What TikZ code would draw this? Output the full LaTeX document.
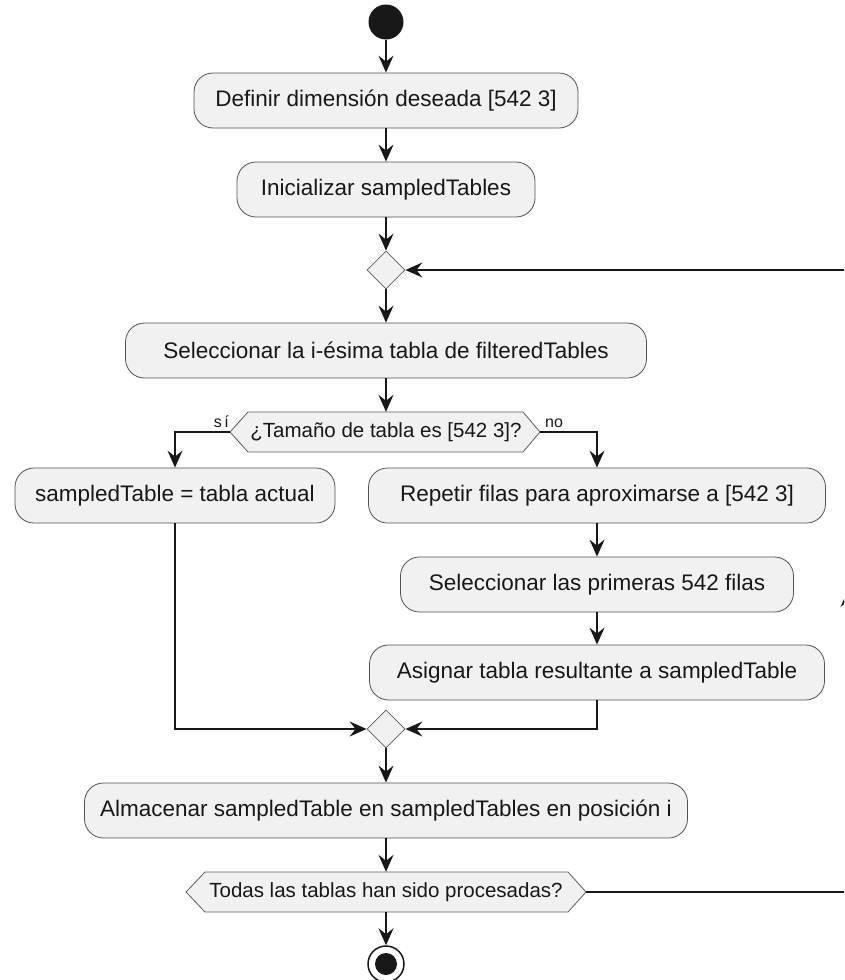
\documentclass[tikz,border=0pt]{standalone}
\usepackage{fontspec}
\setmainfont{Liberation Sans}
\usetikzlibrary{shapes.geometric,arrows.meta,calc}
\definecolor{boxfill}{HTML}{F1F1F1}
\definecolor{ink}{HTML}{181818}

\begin{document}
\begin{tikzpicture}[x=1pt,y=-1pt,
  act/.style={draw=ink!75, line width=0.8pt, fill=boxfill, rounded corners=19pt,
    minimum height=55pt, inner sep=0pt, font=\fontsize{22.5}{27}\selectfont, text=ink},
  merge/.style={diamond, draw=ink!70, line width=0.8pt, fill=boxfill,
    minimum width=38pt, minimum height=38pt, inner sep=0pt},
  hexfill/.style={draw=ink!70, line width=0.8pt, fill=boxfill},
  hextext/.style={inner sep=0pt, minimum height=40pt, font=\fontsize{20.5}{24}\selectfont, text=ink},
  flow/.style={draw=ink, line width=1.5pt, -{Stealth[length=17pt,width=15pt,inset=6pt]}},
  link/.style={draw=ink, line width=1.5pt},
  guard/.style={font=\fontsize{16}{19}\selectfont, text=ink, inner sep=0pt}
]
\useasboundingbox (0,0) rectangle (844,980);
\clip (0,0) rectangle (844,980);

% start and activities
\node[circle, fill=ink, minimum size=35pt, inner sep=0pt] (start) at (386,22) {};
\node[act, minimum width=384pt] (b1) at (386,100.5) {Definir dimensión deseada [542 3]};
\node[act, minimum width=298pt] (b2) at (386,189.5) {Inicializar sampledTables};
\node[merge] (d1) at (386,270) {};
\node[act, minimum width=521pt] (b3) at (386,350.5) {Seleccionar la i-ésima tabla de filteredTables};

% first decision
\path[hexfill] (248,412) -- (523,412) -- (540,432) -- (523,452) -- (248,452) -- (230,432) -- cycle;
\node[hextext, minimum width=275pt] (q1) at (386,432) {¿Tamaño de tabla es [542 3]?};
\coordinate (q1w) at (230,432);
\coordinate (q1e) at (540,432);
\node[guard, anchor=base east] (lsi) at (229,427) {s\kern2.5pt í};
\node[guard, anchor=base west] (lno) at (545,427) {no};

% branches
\node[act, minimum width=320pt] (b4) at (175,495.5) {sampledTable = tabla actual};
\node[act, minimum width=457pt] (b5) at (597,495.5) {Repetir filas para aproximarse a [542 3]};
\node[act, minimum width=393pt] (b6) at (597,584.5) {Seleccionar las primeras 542 filas};
\node[act, minimum width=455pt] (b7) at (597,672.5) {Asignar tabla resultante a sampledTable};
\node[merge] (d2) at (386,729) {};

\node[act, minimum width=603pt] (b8) at (386,810.5) {Almacenar sampledTable en sampledTables en posición i};

% second decision
\path[hexfill] (205,872) -- (568,872) -- (586,892) -- (568,912) -- (205,912) -- (186,892) -- cycle;
\node[hextext, minimum width=363pt] (q2) at (386,892) {Todas las tablas han sido procesadas?};
\coordinate (q2e) at (586,892);

% end
\node[circle, draw=ink, line width=1.5pt, fill=white, minimum size=36pt, inner sep=0pt] (stop) at (386,964) {};
\fill[ink] (stop.center) circle (11pt);

% connectors
\draw[flow] (start) -- (b1);
\draw[flow] (b1) -- (b2);
\draw[flow] (b2) -- (d1);
\draw[flow] (d1) -- (b3);
\draw[flow] (b3) -- (q1);
\draw[flow] (q1w) -| (b4);
\draw[flow] (q1e) -| (b5);
\draw[flow] (b5) -- (b6);
\draw[flow] (b6) -- (b7);
\draw[flow] (b4) |- (d2);
\draw[flow] (b7) |- (d2);
\draw[flow] (d2) -- (b8);
\draw[flow] (b8) -- (q2);
\draw[flow] (q2) -- (stop);

% loop back
\coordinate (lc1) at (848,892);
\coordinate (lm) at (848,590);
\coordinate (lc2) at (848,270);
\draw[link] (q2e) -- (lc1) -- (lm);
\draw[flow] (lc1) -- (lm);
\draw[flow] (lm) -- (lc2) -- (d1);
\end{tikzpicture}
\end{document}
